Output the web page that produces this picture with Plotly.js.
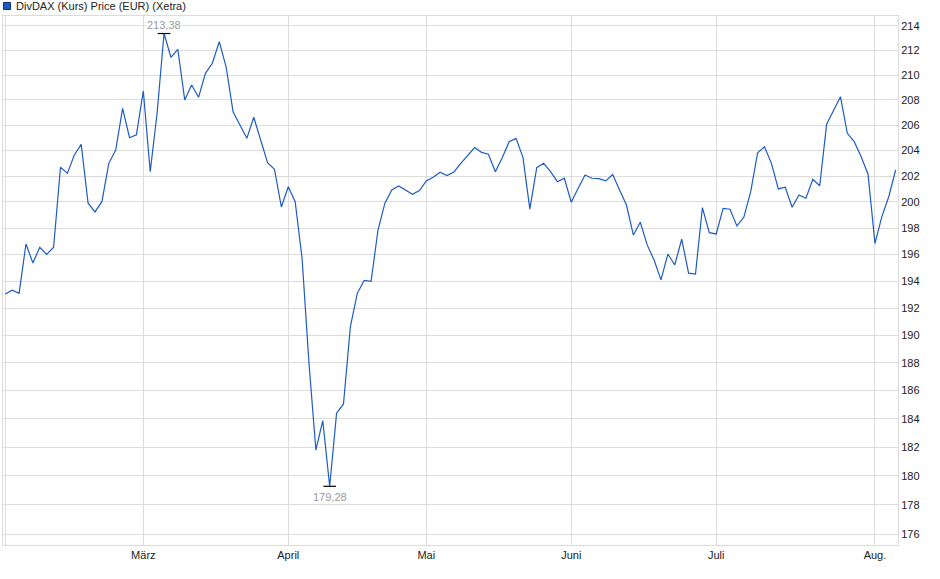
<!DOCTYPE html>
<html>
<head>
<meta charset="utf-8">
<script src="https://cdn.plot.ly/plotly-3.0.1.min.js"></script>
<style>
  html, body { margin: 0; padding: 0; background: #fff; }
  #chart { width: 940px; height: 579px; }
</style>
</head>
<body>
<div id="chart"></div>
<script>
// trading days per month (Xetra, 2025)
var febDays = [3, 4, 5, 6, 7, 10, 11, 12, 13, 14, 17, 18, 19, 20, 21, 24, 25, 26, 27, 28];
var marDays = [3, 4, 5, 6, 7, 10, 11, 12, 13, 14, 17, 18, 19, 20, 21, 24, 25, 26, 27, 28, 31];
var aprDays = [1, 2, 3, 4, 7, 8, 9, 10, 11, 14, 15, 16, 17, 22, 23, 24, 25, 28, 29, 30];
var mayDays = [2, 5, 6, 7, 8, 9, 12, 13, 14, 15, 16, 19, 20, 21, 22, 23, 26, 27, 28, 29, 30];
var junDays = [2, 3, 4, 5, 6, 9, 10, 11, 12, 13, 16, 17, 18, 19, 20, 23, 24, 25, 26, 27, 30];
var julDays = [1, 2, 3, 4, 7, 8, 9, 10, 11, 14, 15, 16, 17, 18, 21, 22, 23, 24, 25, 28, 29, 30, 31];
var augDays = [1, 4, 5, 6];

// closing prices (EUR)
var febClose = [193.04, 193.32, 193.09, 196.79, 195.36, 196.54, 196.01, 196.54, 202.68, 202.21,
                203.64, 204.48, 199.90, 199.23, 200.02, 202.99, 204.03, 207.33, 205.00, 205.22];
var marClose = [208.72, 202.34, 206.96, 213.38, 211.44, 212.09, 208.00, 209.20, 208.21, 210.14,
                210.95, 212.71, 210.65, 207.06, 206.00, 204.95, 206.62, 204.82, 203.04, 202.53, 199.61];
var aprClose = [201.17, 200.02, 195.71, 187.99, 181.80, 183.86, 179.28, 184.39, 185.05, 190.63,
                193.09, 194.05, 193.98, 197.85, 199.90, 200.92, 201.23, 200.92, 200.59, 200.87];
var mayClose = [201.62, 201.90, 202.29, 202.03, 202.32, 202.99, 203.64, 204.22, 203.85, 203.70,
                202.34, 203.43, 204.69, 204.95, 203.46, 199.44, 202.65, 202.99, 202.34, 201.56, 201.83];
var junClose = [199.97, 201.05, 202.08, 201.83, 201.80, 201.62, 202.11, 200.92, 199.76, 197.47,
                198.44, 196.72, 195.58, 194.09, 196.03, 195.21, 197.15, 194.59, 194.53, 199.56, 197.65];
var julClose = [197.55, 199.51, 199.44, 198.16, 198.82, 200.79, 203.82, 204.29, 202.99, 201.00,
                201.13, 199.59, 200.53, 200.28, 201.75, 201.25, 206.06, 207.20, 208.26, 205.35,
                204.69, 203.51, 202.14];
var augClose = [196.84, 198.87, 200.40, 202.47];

var monthTickVals = ['2025-02-03', '2025-03-03', '2025-04-01', '2025-05-02', '2025-06-02', '2025-07-01', '2025-08-01'];
var monthTickText = ['', 'März', 'April', 'Mai', 'Juni', 'Juli', 'Aug.'];
var priceTicks = [176, 178, 180, 182, 184, 186, 188, 190, 192, 194, 196, 198, 200,
                  202, 204, 206, 208, 210, 212, 214];

var seriesName = 'DivDAX (Kurs) Price (EUR) (Xetra)';

function pad(n) { return n < 10 ? '0' + n : '' + n; }

var months = [
    ['02', febDays, febClose], ['03', marDays, marClose], ['04', aprDays, aprClose],
    ['05', mayDays, mayClose], ['06', junDays, junClose], ['07', julDays, julClose],
    ['08', augDays, augClose]
];

var dates = [];
var closes = [];
months.forEach(function (m) {
    m[1].forEach(function (d, i) {
        dates.push('2025-' + m[0] + '-' + pad(d));
        closes.push(m[2][i]);
    });
});

var maxVal = Math.max.apply(null, closes);
var minVal = Math.min.apply(null, closes);
var maxIdx = closes.indexOf(maxVal);
var minIdx = closes.indexOf(minVal);

function fmt(v) { return v.toFixed(2).replace('.', ','); }

var lineTrace = {
    type: 'scatter',
    mode: 'lines',
    x: dates,
    y: closes,
    line: { color: '#1f5bc4', width: 1.2 },
    hoverinfo: 'x+y',
    showlegend: false
};

var extremeTrace = {
    type: 'scatter',
    mode: 'markers',
    x: [dates[maxIdx], dates[minIdx]],
    y: [maxVal, minVal],
    marker: { symbol: 'line-ew', size: 9, line: { color: '#000', width: 1.2 } },
    hoverinfo: 'skip',
    showlegend: false
};

var gridColor = '#dcdcdc';

var layout = {
    width: 940,
    height: 579,
    margin: { l: 3, r: 42, t: 16, b: 34, pad: 0 },
    paper_bgcolor: '#fff',
    plot_bgcolor: '#fff',
    font: { family: '"Liberation Sans", Arial, sans-serif', size: 11, color: '#222' },
    showlegend: false,
    xaxis: {
        type: 'category',
        range: [-0.33, 129.34],
        tickmode: 'array',
        tickvals: monthTickVals,
        ticktext: monthTickText,
        ticks: '',
        showgrid: true,
        gridcolor: gridColor,
        gridwidth: 1,
        showline: true,
        linecolor: gridColor,
        mirror: true,
        zeroline: false,
        fixedrange: true
    },
    yaxis: {
        type: 'log',
        side: 'right',
        range: [2.24373, 2.33208],
        tickmode: 'array',
        tickvals: priceTicks,
        ticktext: priceTicks.map(String),
        ticks: '',
        showgrid: true,
        gridcolor: gridColor,
        gridwidth: 1,
        showline: true,
        linecolor: gridColor,
        mirror: true,
        zeroline: false,
        fixedrange: true
    },
    shapes: [{
        type: 'rect',
        xref: 'paper', yref: 'paper',
        xsizemode: 'pixel', ysizemode: 'pixel',
        xanchor: 0, yanchor: 1,
        x0: 0.5, x1: 7.5, y0: 6.5, y1: 13.5,
        fillcolor: '#1f5bc4',
        line: { color: '#0d2f73', width: 1 }
    }],
    annotations: [
        {
            xref: 'paper', yref: 'paper', x: 0, y: 1,
            xanchor: 'left', yanchor: 'middle', xshift: 11, yshift: 10,
            text: seriesName, showarrow: false,
            font: { size: 11, color: '#222' }
        },
        {
            x: maxIdx, y: Math.log10(maxVal),
            xanchor: 'center', yanchor: 'middle', yshift: 9,
            text: fmt(maxVal), showarrow: false, bgcolor: '#fff', borderpad: 0,
            font: { size: 11, color: '#9a9a9a' }
        },
        {
            x: minIdx, y: Math.log10(minVal),
            xanchor: 'center', yanchor: 'middle', yshift: -11,
            text: fmt(minVal), showarrow: false, bgcolor: '#fff', borderpad: 0,
            font: { size: 11, color: '#9a9a9a' }
        }
    ]
};

var configOptions = { displayModeBar: false, staticPlot: true };

Plotly.newPlot('chart', [lineTrace, extremeTrace], layout, configOptions);
</script>
</body>
</html>
